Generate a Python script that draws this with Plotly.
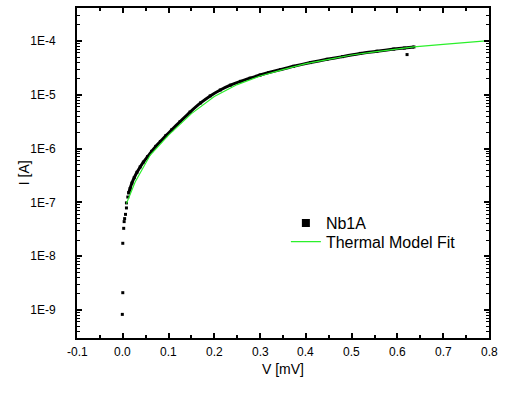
import plotly.graph_objects as go

# Measured I-V data for junction Nb1A (voltage in mV, current in A)
v_data = [-0.001, 0.000, 0.000, 0.002, 0.003, 0.004, 0.006, 0.008, 0.008, 0.011, 0.013,
          0.016, 0.020, 0.025, 0.031, 0.038, 0.045, 0.054, 0.063, 0.072, 0.082, 0.094,
          0.107, 0.125, 0.147, 0.170, 0.191, 0.213, 0.235, 0.257, 0.278, 0.300, 0.319,
          0.345, 0.373, 0.410, 0.446, 0.480, 0.519, 0.555, 0.592, 0.615, 0.636]
i_data = [8.3e-10, 2.1e-9, 1.74e-8, 3.3e-8, 4.4e-8, 5.0e-8, 6.0e-8, 7.9e-8, 9.8e-8, 1.26e-7, 1.51e-7,
          1.82e-7, 2.29e-7, 2.88e-7, 3.63e-7, 4.57e-7, 5.62e-7, 7.08e-7, 8.91e-7, 1.10e-6, 1.35e-6, 1.74e-6,
          2.24e-6, 3.16e-6, 4.79e-6, 7.08e-6, 9.55e-6, 1.23e-5, 1.51e-5, 1.78e-5, 2.04e-5, 2.34e-5, 2.60e-5,
          2.95e-5, 3.39e-5, 3.98e-5, 4.57e-5, 5.13e-5, 5.89e-5, 6.46e-5, 7.08e-5, 7.41e-5, 7.76e-5]

# Single stray reading near the end of the sweep
v_outlier = [0.621]
i_outlier = [5.6e-5]

# Thermal model fit
v_fit = [0.008, 0.027, 0.060, 0.100, 0.150, 0.200, 0.250, 0.300, 0.350, 0.400,
         0.450, 0.500, 0.550, 0.600, 0.636, 0.700, 0.750, 0.800]
i_fit = [9.5e-8, 2.4e-7, 7.6e-7, 1.78e-6, 4.47e-6, 9.3e-6, 1.55e-5, 2.24e-5, 2.95e-5, 3.8e-5,
         4.57e-5, 5.5e-5, 6.3e-5, 7.16e-5, 7.76e-5, 8.7e-5, 9.3e-5, 1.02e-4]

y_tick_vals = [1e-9, 1e-8, 1e-7, 1e-6, 1e-5, 1e-4]
y_tick_text = ["1E-9", "1E-8", "1E-7", "1E-6", "1E-5", "1E-4"]
x_tick_text = ["-0.1", "0.0", "0.1", "0.2", "0.3", "0.4", "0.5", "0.6", "0.7", "0.8"]

FONT = "Liberation Sans, Arial, sans-serif"

# sparse points at the bottom of the curve are drawn as isolated dots,
# the dense part of the sweep as a continuous band of dots
n_sparse = 11
y_minor = [m * 10.0 ** e for e in range(-10, -3) for m in range(2, 10)]

fig = go.Figure()
fig.add_trace(go.Scatter(
    x=v_data[:n_sparse], y=i_data[:n_sparse], mode="markers",
    marker=dict(symbol="square", size=3, color="black"),
    showlegend=False))
fig.add_trace(go.Scatter(
    x=v_data[n_sparse - 1:], y=i_data[n_sparse - 1:], mode="lines+markers",
    line=dict(color="black", width=3, shape="spline", smoothing=0.6),
    marker=dict(symbol="square", size=3, color="black"),
    showlegend=False))
fig.add_trace(go.Scatter(
    x=v_outlier, y=i_outlier, mode="markers",
    marker=dict(symbol="square", size=3, color="black"),
    showlegend=False))
fig.add_trace(go.Scatter(
    x=[None], y=[None], mode="markers", name="Nb1A", legend="legend",
    marker=dict(symbol="square", size=8, color="black")))
fig.add_trace(go.Scatter(
    x=v_fit, y=i_fit, mode="lines", name="Thermal Model Fit", legend="legend2",
    line=dict(color="#2bf02b", width=1.2)))

axis_common = dict(
    showgrid=False, zeroline=False, showline=True, linecolor="black", linewidth=2,
    mirror="ticks", ticks="inside", ticklen=5, tickwidth=1.5, tickcolor="black",
    tickfont=dict(family=FONT, size=12, color="black"),
)

# voltage tick labels are written under each major tick as annotations,
# so every one keeps its single decimal place
fig.update_xaxes(
    range=[-0.1, 0.8], tickmode="array", tickvals=[float(t) for t in x_tick_text],
    showticklabels=False,
    minor=dict(tickmode="linear", tick0=0, dtick=0.05, ticks="inside", ticklen=3,
               tickwidth=1.5, tickcolor="black"),
    **axis_common)
for label in x_tick_text:
    fig.add_annotation(
        text=label, x=float(label), xref="x", y=0, yref="paper",
        xanchor="center", yanchor="top", yshift=-5, showarrow=False,
        font=dict(family=FONT, size=12, color="black"))
fig.add_annotation(
    text="V [mV]", x=0.5, xref="paper", y=0, yref="paper",
    xanchor="center", yanchor="top", yshift=-21, showarrow=False,
    font=dict(family=FONT, size=14, color="black"))

fig.update_yaxes(
    type="log", range=[-9.52, -3.386], tickmode="array", tickvals=y_tick_vals, ticktext=y_tick_text,
    minor=dict(tickmode="array", tickvals=y_minor, ticks="inside", ticklen=3,
               tickwidth=1, tickcolor="black"),
    ticklabelstandoff=17,
    **axis_common)

fig.add_annotation(
    text="I [A]", textangle=-90, xref="paper", yref="paper",
    x=-0.128, y=0.5, xanchor="center", yanchor="middle", showarrow=False,
    font=dict(family=FONT, size=14, color="black"))

legend_style = dict(x=0.507, xanchor="left", yanchor="middle",
                    bgcolor="rgba(0,0,0,0)", font=dict(family=FONT, size=16, color="black"),
                    itemwidth=30)
fig.update_layout(
    width=512, height=394,
    margin=dict(l=77, r=23, t=6, b=56),
    paper_bgcolor="white", plot_bgcolor="white",
    legend=dict(y=0.348, **legend_style),
    legend2=dict(y=0.292, **legend_style),
    showlegend=True,
)

fig.write_html("out.html")
